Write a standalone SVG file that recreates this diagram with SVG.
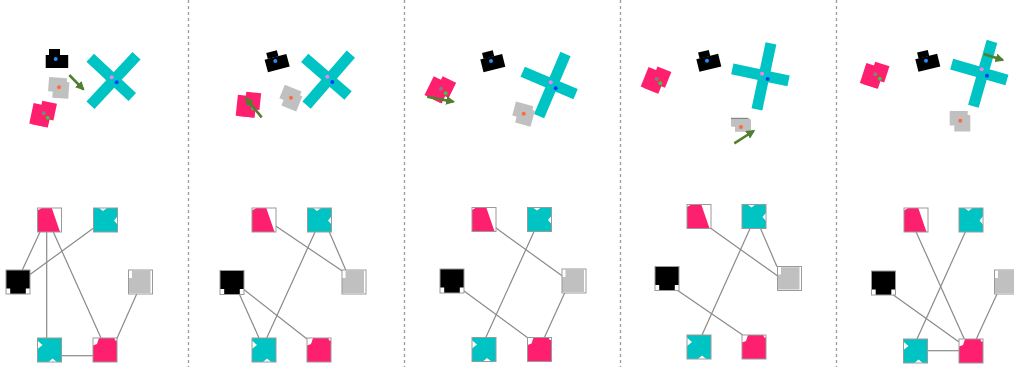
<svg xmlns="http://www.w3.org/2000/svg" xmlns:xlink="http://www.w3.org/1999/xlink" width="1014" height="367" viewBox="0 0 1014 367">
<style>
.div{stroke:#999;stroke-width:1.3;stroke-dasharray:3 3;fill:none}
.edge{stroke:#8a8a8a;stroke-width:1.2;fill:none}
.frame{fill:none;stroke:#9a9a9a;stroke-width:1}
.pk{fill:#ff1f6f}.cy{fill:#00c3c3}.bk{fill:#000}.gy{fill:#c0c0c0}.wh{fill:#fff}
.force{stroke:#4f7f2f;stroke-width:2.6;fill:none;marker-end:url(#ah)}
</style>
<defs>
<marker id="ah" viewBox="0 0 10 10" refX="8" refY="5" markerWidth="9" markerHeight="9" markerUnits="userSpaceOnUse" orient="auto"><path d="M0,0 L10,5 L0,10 z" fill="#4f7f2f"/></marker>
<g id="sh-black" class="bk"><rect x="-10" y="-4" width="22.5" height="13"/><rect x="-6.7" y="-10" width="11" height="6.2"/></g>
<g id="sh-cross" class="cy"><rect x="-5.5" y="-33" width="11" height="67.5"/><rect x="-32.5" y="-5.5" width="57.5" height="11"/></g>
<g id="sh-pink" class="pk"><rect x="-12" y="-8" width="19" height="21"/><rect x="-4" y="-12" width="15" height="17"/><rect x="-9" y="2" width="15" height="11"/></g>
<g id="sh-gray" class="gy"><rect x="-10.6" y="-9.7" width="18" height="14.5"/><rect x="-6" y="-5.7" width="16" height="16.5"/></g>
<g id="t-pinkA"><rect class="wh" width="24" height="24"/><polygon class="pk" points="0,2.6 4.3,0 14.3,0 21.5,21 22.7,24 0,24"/><rect class="frame" width="24" height="24"/></g>
<g id="t-pinkB"><rect class="wh" width="24" height="24"/><polygon class="pk" points="6,0 21.5,0 22,2.5 24,2.5 24,24 0,24 0,7.5 4,6"/><rect class="frame" width="24" height="24"/></g>
<g id="t-cyanA"><rect class="cy" width="24" height="24"/><polygon class="wh" points="5.5,0 13.5,0 9.5,3"/><polygon class="wh" points="24,8.3 24,16.5 20.5,12.4"/><rect class="frame" width="24" height="24"/></g>
<g id="t-cyanB"><rect class="cy" width="24" height="24"/><polygon class="wh" points="0,2.8 0,11 5,6.9"/><polygon class="wh" points="11,24 19.3,24 15,20.5"/><rect class="frame" width="24" height="24"/></g>
<g id="t-black"><rect class="bk" width="24" height="24"/><rect class="wh" x="0" y="18.5" width="4.2" height="5.5"/><rect class="wh" x="19.8" y="18.5" width="4.2" height="5.5"/><rect class="frame" width="24" height="24"/></g>
<g id="t-gray"><rect class="wh" width="24" height="24"/><polygon class="gy" points="3.5,0.7 22,0.7 22,23 0,23 0,8 3.5,8"/><rect class="frame" width="24" height="24"/></g>
</defs>
<rect width="1014" height="367" fill="#fff"/>

<g id="dividers">
<line class="div" x1="188.5" y1="0" x2="188.5" y2="367"/>
<line class="div" x1="404.5" y1="0" x2="404.5" y2="367"/>
<line class="div" x1="620.5" y1="0" x2="620.5" y2="367"/>
<line class="div" x1="836.5" y1="0" x2="836.5" y2="367"/>
</g>

<!-- Panel 1 scene -->
<g id="p1-scene">
<use href="#sh-black" transform="translate(55.7,59)"/>
<use href="#sh-gray" transform="translate(59,87.3) rotate(4)"/>
<use href="#sh-pink" transform="translate(43.7,113.3) rotate(12)"/>
<use href="#sh-cross" transform="translate(114,80) rotate(43)"/>
<circle cx="55.7" cy="59" r="2" fill="#1e90ff"/>
<circle cx="59" cy="87.3" r="2" fill="#ff6a3a"/>
<circle cx="43.7" cy="113.3" r="2" fill="#808080"/>
<circle cx="47.7" cy="117.7" r="2" fill="#33cc33"/>
<circle cx="111.7" cy="77.3" r="2" fill="#ee82ee"/>
<circle cx="116.7" cy="82.3" r="2" fill="#0a3cff"/>
<line class="force" x1="69.3" y1="75" x2="83.3" y2="89.3"/>
</g>
<g id="p1-edges">
<line class="edge" x1="40" y1="232" x2="22.3" y2="270"/>
<line class="edge" x1="93.3" y1="228.3" x2="29.3" y2="275"/>
<line class="edge" x1="46.7" y1="232" x2="46.7" y2="338"/>
<line class="edge" x1="53.3" y1="232" x2="101" y2="338"/>
<line class="edge" x1="136.7" y1="294" x2="116.7" y2="339"/>
<line class="edge" x1="61.5" y1="355.7" x2="93" y2="355.7"/>
</g>
<g id="p1-pinkA"><use href="#t-pinkA" x="37.5" y="208"/></g>
<g id="p1-cyanA"><use href="#t-cyanA" x="93.5" y="208"/></g>
<g id="p1-black"><use href="#t-black" x="6" y="270"/></g>
<g id="p1-gray"><use href="#t-gray" x="128.5" y="270"/></g>
<g id="p1-cyanB"><use href="#t-cyanB" x="37.5" y="338"/></g>
<g id="p1-pinkB"><use href="#t-pinkB" x="93" y="338"/></g>

<!-- Panel 2 scene -->
<g id="p2-scene">
<use href="#sh-black" transform="translate(275.3,61) rotate(-15)"/>
<use href="#sh-gray" transform="translate(291,97.7) rotate(22)"/>
<use href="#sh-pink" transform="translate(249,104) rotate(6)"/>
<use href="#sh-cross" transform="translate(329.2,79.1) rotate(41)"/>
<circle cx="275.3" cy="61" r="2" fill="#1e90ff"/>
<circle cx="291" cy="97.7" r="2" fill="#ff6a3a"/>
<circle cx="249" cy="104" r="2" fill="#808080"/>
<circle cx="253" cy="108.5" r="2" fill="#33cc33"/>
<circle cx="327.3" cy="76.7" r="2" fill="#ee82ee"/>
<circle cx="332.3" cy="82" r="2" fill="#0a3cff"/>
<line class="force" x1="261.7" y1="117.3" x2="246" y2="98.3"/>
</g>
<g id="p2-edges">
<line class="edge" x1="275.7" y1="226" x2="342.3" y2="271"/>
<line class="edge" x1="329.3" y1="232" x2="346" y2="270.5"/>
<line class="edge" x1="315" y1="232" x2="266.7" y2="338"/>
<line class="edge" x1="239.3" y1="294" x2="259" y2="338"/>
<line class="edge" x1="243.5" y1="289.3" x2="307" y2="339"/>
</g>
<g id="p2-pinkA"><use href="#t-pinkA" x="252" y="208"/></g>
<g id="p2-cyanA"><use href="#t-cyanA" x="307.5" y="208"/></g>
<g id="p2-black"><use href="#t-black" x="220" y="270.5"/></g>
<g id="p2-gray"><use href="#t-gray" x="342" y="270"/></g>
<g id="p2-cyanB"><use href="#t-cyanB" x="252" y="338"/></g>
<g id="p2-pinkB"><use href="#t-pinkB" x="307" y="338"/></g>

<!-- Panel 3 scene -->
<g id="p3-scene">
<use href="#sh-black" transform="translate(491,61) rotate(-14)"/>
<use href="#sh-gray" transform="translate(523.7,113.7) rotate(15)"/>
<use href="#sh-pink" transform="translate(441,88.7) rotate(26)"/>
<use href="#sh-cross" transform="translate(552.6,84.4) rotate(23)"/>
<circle cx="491" cy="61" r="2" fill="#1e90ff"/>
<circle cx="523.7" cy="113.7" r="2" fill="#ff6a3a"/>
<circle cx="441" cy="88.7" r="2" fill="#808080"/>
<circle cx="445.7" cy="93.3" r="2" fill="#33cc33"/>
<circle cx="550.7" cy="82.3" r="2" fill="#ee82ee"/>
<circle cx="555.7" cy="88.3" r="2" fill="#0a3cff"/>
<line class="force" x1="427.3" y1="96.7" x2="453.3" y2="101.7"/>
</g>
<g id="p3-edges">
<line class="edge" x1="495" y1="227.3" x2="562.3" y2="276"/>
<line class="edge" x1="534.3" y1="231" x2="485.7" y2="337.7"/>
<line class="edge" x1="565" y1="292.3" x2="544.3" y2="337.7"/>
<line class="edge" x1="463.7" y1="290.7" x2="528.3" y2="338.3"/>
</g>
<g id="p3-pinkA"><use href="#t-pinkA" x="472" y="207.5"/></g>
<g id="p3-cyanA"><use href="#t-cyanA" x="527.5" y="207.5"/></g>
<g id="p3-black"><use href="#t-black" x="440" y="269"/></g>
<g id="p3-gray"><use href="#t-gray" x="562" y="269"/></g>
<g id="p3-cyanB"><use href="#t-cyanB" x="472" y="337.5"/></g>
<g id="p3-pinkB"><use href="#t-pinkB" x="527.5" y="337.5"/></g>

<!-- Panel 4 scene -->
<g id="p4-scene">
<use href="#sh-black" transform="translate(707,60.7) rotate(-14)"/>
<polygon class="gy" points="731,118 749,118 751,120 751,131.7 735,131.7 735,127 731,126.5"/>
<line x1="731" y1="118.3" x2="748" y2="118.3" stroke="#666" stroke-width="0.8"/>
<use href="#sh-pink" transform="translate(656.7,79) rotate(22)"/>
<use href="#sh-cross" transform="translate(764.1,75.7) rotate(12)"/>
<circle cx="707" cy="60.7" r="2" fill="#1e90ff"/>
<circle cx="741" cy="127" r="2" fill="#ff6a3a"/>
<circle cx="656.7" cy="79" r="2" fill="#808080"/>
<circle cx="660.3" cy="83.3" r="2" fill="#33cc33"/>
<circle cx="762" cy="73.7" r="2" fill="#ee82ee"/>
<circle cx="767.7" cy="79" r="2" fill="#0a3cff"/>
<line class="force" x1="734.3" y1="143.3" x2="753.7" y2="131"/>
</g>
<g id="p4-edges">
<line class="edge" x1="709.3" y1="227.3" x2="777.7" y2="276"/>
<line class="edge" x1="760.3" y1="228" x2="777" y2="266.7"/>
<line class="edge" x1="750.3" y1="228" x2="702" y2="335"/>
<line class="edge" x1="677" y1="290" x2="742.7" y2="335"/>
</g>
<g id="p4-pinkA"><use href="#t-pinkA" x="687" y="204.5"/></g>
<g id="p4-cyanA"><use href="#t-cyanA" x="742" y="204.5"/></g>
<g id="p4-black"><use href="#t-black" x="655" y="266.5"/></g>
<g id="p4-gray"><use href="#t-gray" x="777.5" y="266.5"/></g>
<g id="p4-cyanB"><use href="#t-cyanB" x="687" y="335"/></g>
<g id="p4-pinkB"><use href="#t-pinkB" x="742" y="335"/></g>

<!-- Panel 5 scene -->
<g id="p5-scene">
<use href="#sh-black" transform="translate(926,60.7) rotate(-14)"/>
<use href="#sh-gray" transform="translate(960.3,120.7)"/>
<use href="#sh-pink" transform="translate(875.3,74.3) rotate(18)"/>
<use href="#sh-cross" transform="translate(982.9,73.1) rotate(16)"/>
<circle cx="926" cy="60.7" r="2" fill="#1e90ff"/>
<circle cx="960.3" cy="120.7" r="2" fill="#ff6a3a"/>
<circle cx="875.3" cy="74.3" r="2" fill="#808080"/>
<circle cx="879.7" cy="78.7" r="2" fill="#33cc33"/>
<circle cx="981.7" cy="69.3" r="2" fill="#ee82ee"/>
<circle cx="987" cy="75.7" r="2" fill="#0a3cff"/>
<line class="force" x1="983.7" y1="54" x2="1002.7" y2="60"/>
</g>
<g id="p5-edges">
<line class="edge" x1="916" y1="231.7" x2="964.3" y2="339"/>
<line class="edge" x1="965.3" y1="232" x2="917" y2="339"/>
<line class="edge" x1="892" y1="294" x2="958.7" y2="341.7"/>
<line class="edge" x1="997" y1="294" x2="976.3" y2="339"/>
<line class="edge" x1="927" y1="350.7" x2="959" y2="350.7"/>
</g>
<g id="p5-pinkA"><use href="#t-pinkA" x="904" y="208"/></g>
<g id="p5-cyanA"><use href="#t-cyanA" x="959" y="208"/></g>
<g id="p5-black"><use href="#t-black" x="871.5" y="271"/></g>
<g id="p5-gray"><use href="#t-gray" x="994.5" y="270"/></g>
<g id="p5-cyanB"><use href="#t-cyanB" x="903.5" y="339"/></g>
<g id="p5-pinkB"><use href="#t-pinkB" x="959" y="339"/></g>
</svg>
